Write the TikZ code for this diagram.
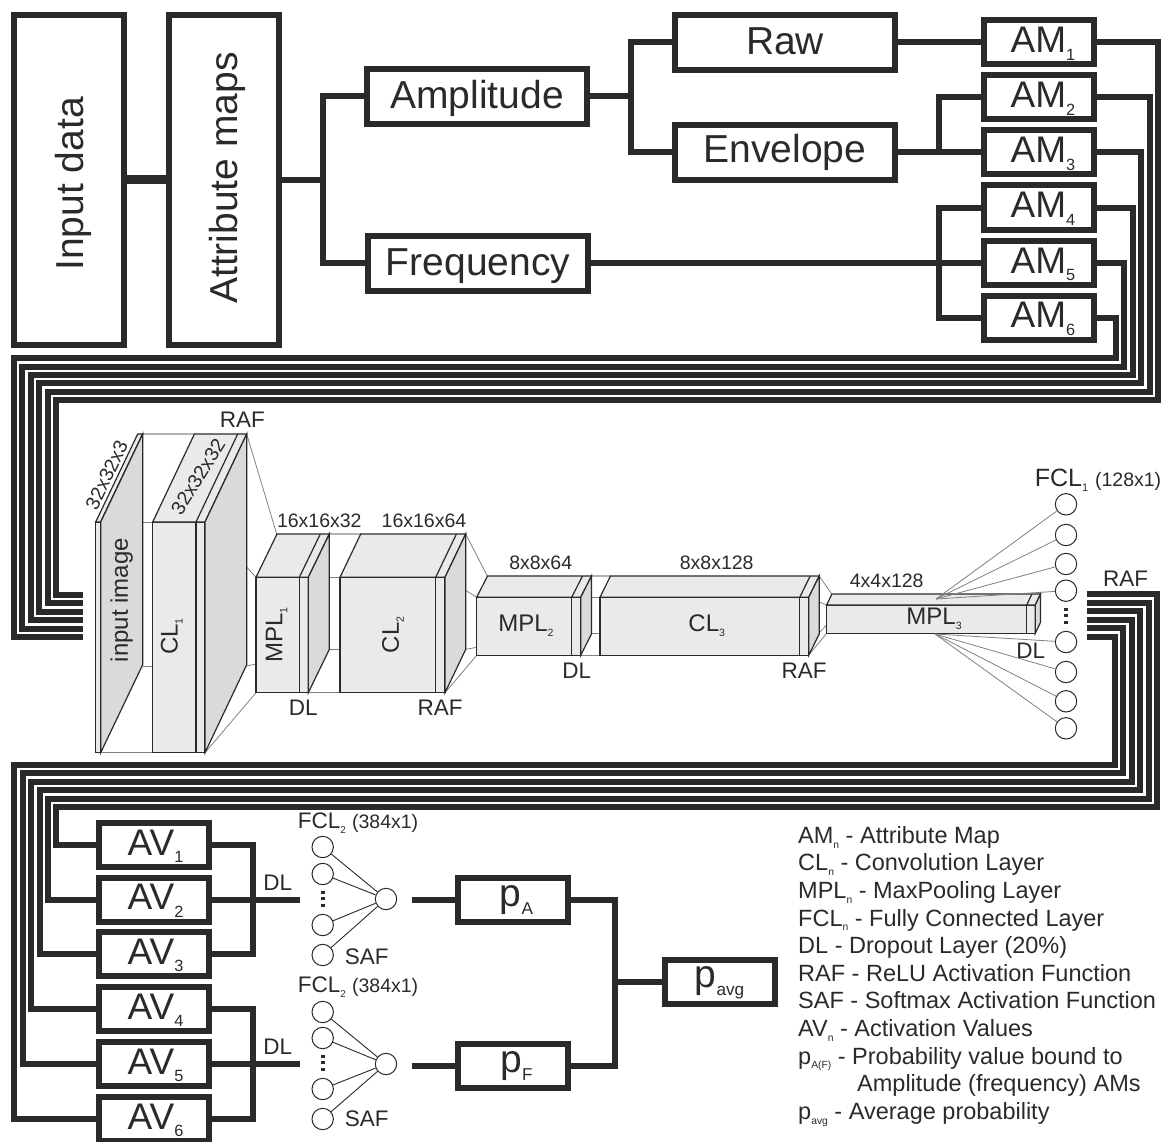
\documentclass[tikz,border=0pt]{standalone}
\usepackage{fontspec}
\setmainfont{Liberation Sans}
\definecolor{inkdark}{HTML}{2B2A29}
\definecolor{facefront}{HTML}{E9EAEA}
\definecolor{faceside}{HTML}{D9DADA}
\newcommand{\lowtxt}[1]{\raisebox{-.21em}{\scalebox{.44}{#1}}}
\newcommand{\dimfont}[1]{{\fontsize{19.5}{23}\selectfont #1}}
\tikzset{
    every node/.style={text=inkdark},
    wire/.style={draw=inkdark, line width=6},
    bigbox/.style={draw=inkdark, line width=6, outer sep=0, inner sep=0,
        font=\fontsize{39}{47}\selectfont, minimum width=220, minimum height=55,
        text height=32, text depth=7},
    rotbox/.style={bigbox, rotate=90, minimum width=330, minimum height=110},
    smallbox/.style={bigbox, font=\fontsize{37}{44}\selectfont, minimum width=110, minimum height=44,
        text height=27, text depth=7},
    pbox/.style={smallbox, font=\fontsize{39}{47}\selectfont, text height=27, text depth=15},
    facelines/.style={draw=inkdark, line width=1.2, line join=miter},
    thinlink/.style={draw=gray, line width=.8},
    lightlink/.style={draw=gray!60, line width=1.4},
    neuron/.style={circle, draw=inkdark, fill=white, line width=1, minimum size=21.4, inner sep=0},
    netlink/.style={draw=inkdark, line width=.9},
    feedlink/.style={draw=gray, line width=.8},
    dotcol/.style={draw=inkdark, line width=4, dash pattern=on 3pt off 3.4pt},
    dimlabel/.style={font=\fontsize{19.5}{23}\selectfont, inner sep=0},
    taglabel/.style={font=\fontsize{22.5}{27}\selectfont, inner sep=0},
    blocklabel/.style={font=\fontsize{24}{29}\selectfont, inner sep=0},
}
% left, divider, right, top, bottom, depth in x, y of the back edge
\newcommand{\layerblock}[7]{%
    \path[facelines, fill=facefront] (#1,#4) rectangle (#3,#5);
    \draw[facelines] (#2,#4) -- (#2,#5);
    \path[facelines, fill=facefront] (#1,#4) -- (#1+#6,#7) -- (#3+#6,#7) -- (#3,#4) -- cycle;
    \draw[facelines] (#2,#4) -- (#2+#6,#7);
    \path[facelines, fill=faceside] (#3,#4) -- (#3+#6,#7) -- (#3+#6,#5-#4+#7) -- (#3,#5) -- cycle;
}
\begin{document}
\begin{tikzpicture}[x=1pt, y=-1pt]
    \useasboundingbox (0,0) rectangle (1161,1142);

    % top tree
    \node[rotbox, text height=35] (input) at (69,180) {Input data\hspace*{8pt}};
    \node[rotbox, text height=33] (attr) at (224,180) {\hspace*{4pt}Attribute maps};
    \node[bigbox] (ampl) at (477,96.5) {Amplitude};
    \node[bigbox] (freq) at (478,263) {Frequency};
    \node[bigbox] (raw) at (785,42.5) {Raw};
    \node[bigbox, text height=27] (envel) at (785,152.5) {Envelope};
    \foreach \i/\y in {1/42.5, 2/97.5, 3/152.5, 4/207.5, 5/263, 6/317.5}
        \node[smallbox] (am\i) at (1038.5,\y) {\hspace*{9pt}AM\lowtxt{\i}};

    \draw[wire, line width=9] (input) -- (attr);
    \coordinate (attrfork) at (323,180);
    \coordinate (amplfork) at (631,96.5);
    \coordinate (envfork) at (939,152.5);
    \coordinate (freqfork) at (939,263);
    \draw[wire] (attr) -- (attrfork);
    \draw[wire] (ampl.west) -| (attrfork) |- (freq.west);
    \draw[wire] (ampl) -- (amplfork);
    \draw[wire] (raw.west) -| (amplfork) |- (envel.west);
    \draw[wire] (raw) -- (am1);
    \draw[wire] (envel) -- (am3);
    \draw[wire] (am2.west) -| (envfork);
    \draw[wire] (freq) -- (am5);
    \draw[wire] (am4.west) -| (freqfork) |- (am6.west);

    % bus from the maps to the input image
    \foreach \i/\yb in {1/595, 2/603.4, 3/611.8, 4/620.2, 5/628.6, 6/637}
        \coordinate (in\i) at (83,\yb);
    \foreach \i/\xr/\yt/\xl in {1/1158/400/56, 2/1149.5/391.5/47.6, 3/1141/383/39.2,
                                4/1132.5/375/30.8, 5/1124/366.5/22.4, 6/1116/358/14}
        \draw[wire] (am\i.east) -| (\xr,\yt) -- (\xl,\yt) |- (in\i);

    % links between the blocks
    \draw[lightlink] (142.7,434) -- (194,434);
    \draw[thinlink] (100.7,522) -- (152.7,522) (142.7,666) -- (152.7,666) (100.7,752.7) -- (152.7,752.7);
    \draw[thinlink] (246.7,434) -- (276.7,534) (205,522) -- (256,577.3) (246.7,666) -- (256,664) (205,752.7) -- (256,692.7);
    \draw[lightlink] (329.3,534) -- (361.7,534);
    \draw[thinlink] (308.3,577.3) -- (340,577.3) (329.3,649.3) -- (340,649.3) (308.3,692.7) -- (340,692.7);
    \draw[thinlink] (465.7,534) -- (487.3,576) (445,577.3) -- (476.7,597.3) (465.7,649.3) -- (476.7,647.3) (445,692.7) -- (476.7,655.3);
    \draw[lightlink] (591.7,576) -- (610.7,576);
    \draw[thinlink] (580.7,597.3) -- (600,597.3) (591.7,633.3) -- (600,633.3) (580.7,655.3) -- (600,655.3);
    \draw[thinlink] (819,575.7) -- (831.7,594) (808.7,597.7) -- (826.7,605) (819,633) -- (826.7,625) (808.7,655) -- (826.7,633.3);

    % layer blocks
    \layerblock{95.7}{100.7}{100.7}{522}{752.7}{42}{434}
    \layerblock{152.7}{196}{205}{522}{752.7}{41.7}{434}
    \layerblock{256}{299.3}{308.3}{577.3}{692.7}{21}{534}
    \layerblock{340}{435.7}{445}{577.3}{692.7}{20.7}{534}
    \layerblock{476.7}{571.7}{580.7}{597.3}{655.3}{10.8}{576}
    \layerblock{600}{799.7}{808.7}{597.3}{655.3}{10.5}{576}
    \layerblock{826.7}{1026.7}{1035.3}{605}{633.3}{5.2}{594}

    \node[blocklabel, rotate=90] (inimg) at (121.7,600) {input image};
    \node[blocklabel, rotate=90] (cl1) at (171.7,636.7) {CL\lowtxt{1}};
    \node[blocklabel, rotate=90] (mpl1) at (276.7,635) {MPL\lowtxt{1}};
    \node[blocklabel, rotate=90] (cl2) at (393,635) {CL\lowtxt{2}};
    \node[blocklabel] (mpl2) at (526,626) {MPL\lowtxt{2}};
    \node[blocklabel] (cl3) at (706.7,626) {CL\lowtxt{3}};
    \node[blocklabel] (mpl3) at (934,619) {MPL\lowtxt{3}};

    \node[dimlabel, rotate=64.5] (dim1) at (106.7,475) {32x32x3};
    \node[dimlabel, rotate=58] (dim2) at (198,476.7) {32x32x32};
    \node[dimlabel] (dim3) at (319.3,520.7) {16x16x32};
    \node[dimlabel] (dim4) at (424,520.7) {16x16x64};
    \node[dimlabel] (dim5) at (540.7,562.7) {8x8x64};
    \node[dimlabel] (dim6) at (716.7,562.7) {8x8x128};
    \node[dimlabel] (dim7) at (886.7,580.7) {4x4x128};

    \node[taglabel] (raf1) at (242.3,420) {RAF};
    \node[taglabel] (dl1) at (303.3,708) {DL};
    \node[taglabel] (raf2) at (440,708) {RAF};
    \node[taglabel] (dl2) at (576.7,670.7) {DL};
    \node[taglabel] (raf3) at (804,670.7) {RAF};
    \node[taglabel] (dl3) at (1030.7,650.7) {DL};
    \node[taglabel] (raf4) at (1125.7,579) {RAF};

    % first dense layer
    \node[taglabel, font=\fontsize{25}{29}\selectfont] (fcltop) at (1098,480) {FCL\lowtxt{1} \dimfont{(128x1)}};
    \coordinate (mplup) at (936,599);
    \coordinate (mpldown) at (935,634);
    \foreach \i/\y in {1/504.3, 2/535, 3/564, 4/590.7} {
        \node[neuron] (fa\i) at (1066,\y) {};
        \draw[feedlink] (mplup) -- (fa\i);
    }
    \foreach \i/\y in {5/642, 6/672, 7/701.3, 8/728.3} {
        \node[neuron] (fa\i) at (1066,\y) {};
        \draw[feedlink] (mpldown) -- (fa\i);
    }
    \coordinate (dotsa) at (1066,608);
    \coordinate (dotsb) at (1066,626);
    \draw[dotcol] (dotsa) -- (dotsb);

    % bus from the dense layer to the activation values
    \foreach \i/\y in {1/594, 2/602.6, 3/611.2, 4/619.8, 5/628.4, 6/637}
        \coordinate (rafout\i) at (1087,\y);
    \foreach \i/\y in {1/845, 2/899.5, 3/954, 4/1009, 5/1064, 6/1119}
        \node[smallbox] (av\i) at (153.5,\y) {\hspace*{4pt}AV\lowtxt{\i}};
    \foreach \i/\xr/\yh/\xl in {1/1157/807/56, 2/1148.6/798.6/48, 3/1140.2/790.2/39.6,
                                4/1131.8/781.8/31, 5/1123.4/773.4/23, 6/1115/765/14}
        \draw[wire] (rafout\i) -| (\xr,\yh) -- (\xl,\yh) |- (av\i.west);

    % two output branches
    \coordinate (forka) at (253,899.5);
    \coordinate (forkb) at (253,1064);
    \coordinate (enda) at (300,899.5);
    \coordinate (endb) at (300,1064);
    \draw[wire] (av1.east) -| (forka) |- (av3.east);
    \draw[wire] (av2) -- (enda);
    \draw[wire] (av4.east) -| (forkb) |- (av6.east);
    \draw[wire] (av5) -- (endb);
    \node[taglabel] (dla) at (277.7,882.7) {DL};
    \node[taglabel] (dlb) at (277.7,1047) {DL};

    \node[taglabel] (fcla) at (358,823) {FCL\lowtxt{2} \dimfont{(384x1)}};
    \node[taglabel] (fclb) at (358,987) {FCL\lowtxt{2} \dimfont{(384x1)}};
    \node[taglabel] (safa) at (366.7,956.7) {SAF};
    \node[taglabel] (safb) at (366.7,1119) {SAF};

    \node[neuron] (outa) at (386,899) {};
    \node[neuron] (outb) at (386,1064) {};
    \foreach \i/\y in {1/847, 2/874, 3/925, 4/955} {
        \node[neuron] (na\i) at (322.7,\y) {};
        \draw[netlink] (na\i) -- (outa);
    }
    \foreach \i/\y in {1/1012, 2/1038, 3/1089, 4/1119} {
        \node[neuron] (nb\i) at (322.7,\y) {};
        \draw[netlink] (nb\i) -- (outb);
    }
    \coordinate (dotsc) at (322.7,891);
    \coordinate (dotsd) at (322.7,909);
    \coordinate (dotse) at (322.7,1055);
    \coordinate (dotsf) at (322.7,1073);
    \draw[dotcol] (dotsc) -- (dotsd);
    \draw[dotcol] (dotse) -- (dotsf);

    % probabilities
    \node[pbox] (pa) at (513,900) {\hspace*{7pt}p\lowtxt{A}};
    \node[pbox] (pf) at (513,1066) {\hspace*{7pt}p\lowtxt{F}};
    \node[pbox] (pavg) at (719.5,981.5) {p\lowtxt{avg}};
    \coordinate (starta) at (412,900);
    \coordinate (startb) at (412,1066);
    \coordinate (pfork) at (615,981.5);
    \draw[wire] (starta) -- (pa);
    \draw[wire] (startb) -- (pf);
    \draw[wire] (pa.east) -| (pfork) |- (pf.east);
    \draw[wire] (pfork) -- (pavg);

    % legend
    \node[anchor=north west, align=left, inner sep=0, font=\fontsize{23.5}{27.6}\selectfont] (legend) at (798,826) {%
        AM\lowtxt{n} - Attribute Map\\
        CL\lowtxt{n} - Convolution Layer\\
        MPL\lowtxt{n} - MaxPooling Layer\\
        FCL\lowtxt{n} - Fully Connected Layer\\
        DL - Dropout Layer (20\%)\\
        RAF - ReLU Activation Function\\
        SAF - Softmax Activation Function\\
        AV\lowtxt{n} - Activation Values\\
        p\lowtxt{A(F)} - Probability value bound to\\
        \hspace*{59pt}Amplitude (frequency) AMs\\
        p\lowtxt{avg} - Average probability};
\end{tikzpicture}
\end{document}
